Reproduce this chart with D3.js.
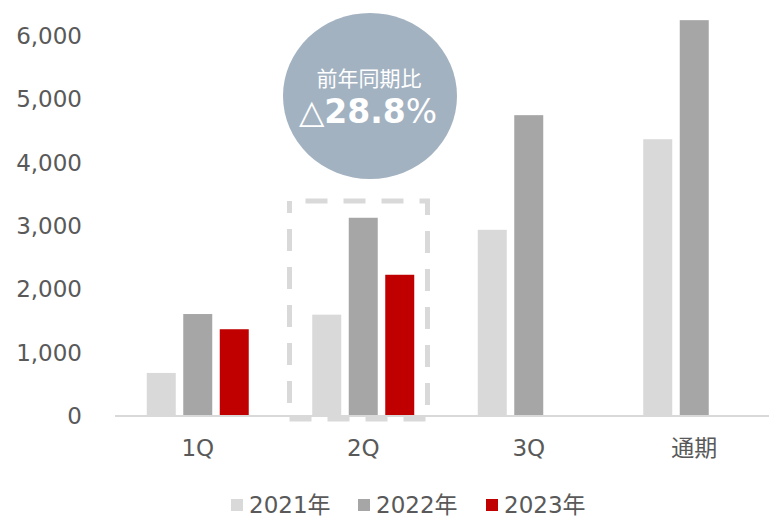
<!DOCTYPE html>
<html>
<head>
<meta charset="utf-8">
<script src="https://cdn.jsdelivr.net/npm/d3@7"></script>
<style>
  body { margin: 0; background: #fff; }
  svg text { font-family: "DejaVu Sans", "Noto Sans CJK JP", sans-serif; }
</style>
</head>
<body>
<svg width="769" height="518"></svg>
<script>
// values
const categories = ["1Q", "2Q", "3Q", "通期"];
const series = ["2021年", "2022年", "2023年"];
const values2021 = [680, 1600, 2940, 4370];
const values2022 = [1610, 3130, 4750, 6250];
const values2023 = [1370, 2230, null, null];
const yTicks = [0, 1000, 2000, 3000, 4000, 5000, 6000];
const colors = ["#d9d9d9", "#a6a6a6", "#c00000"];

const allValues = [values2021, values2022, values2023];
const svg = d3.select("svg");

const x0 = d3.scaleBand().domain(categories).range([115, 777]);
const x1 = d3.scaleBand().domain(series).range([0, x0.bandwidth()])
    .paddingInner(0.2055).paddingOuter(0.87);
const y = d3.scaleLinear().domain([0, 6000]).range([416, 36]);

// dashed highlight box around 2Q
const bx = x0("2Q");
svg.append("rect")
    .attr("x", bx + 9)
    .attr("y", y(3000) - 25)
    .attr("width", 138)
    .attr("height", 218)
    .attr("fill", "none")
    .attr("stroke", "#d9d9d9")
    .attr("stroke-width", 5)
    .attr("stroke-dasharray", "22,16")
    .attr("stroke-dashoffset", 22);

// bars
series.forEach((s, i) => {
    svg.append("g").selectAll("rect")
        .data(categories.map((c, j) => ({c: c, v: allValues[i][j]})).filter(d => d.v != null))
        .enter().append("rect")
        .attr("x", d => x0(d.c) + x1(s))
        .attr("y", d => y(d.v))
        .attr("width", x1.bandwidth())
        .attr("height", d => y(0) - y(d.v))
        .attr("fill", colors[i]);
});

// baseline
svg.append("line")
    .attr("x1", 115).attr("x2", 777)
    .attr("y1", y(0)).attr("y2", y(0))
    .attr("stroke", "#d9d9d9").attr("stroke-width", 2);

// y labels
svg.selectAll("text.ytick")
    .data(yTicks)
    .enter().append("text")
    .attr("class", "ytick")
    .text(d => d3.format(",")(d))
    .attr("text-anchor", "end")
    .attr("x", 82)
    .attr("y", d => y(d) + 8)
    .attr("font-size", 23)
    .attr("fill", "#595959");

// x labels
svg.selectAll("text.xtick")
    .data(categories)
    .enter().append("text")
    .attr("class", "xtick")
    .text(d => d)
    .attr("text-anchor", "middle")
    .attr("x", d => x0(d) + x0.bandwidth() / 2)
    .attr("y", 456)
    .attr("font-size", 23)
    .attr("fill", "#595959");

// callout bubble
svg.append("ellipse")
    .attr("cx", 370).attr("cy", 96)
    .attr("rx", 87).attr("ry", 83)
    .attr("fill", "#a3b2c1");
svg.append("text")
    .text("前年同期比")
    .attr("text-anchor", "middle")
    .attr("x", 369).attr("y", 86)
    .attr("font-size", 21)
    .attr("fill", "#fff");
const big = svg.append("text")
    .attr("text-anchor", "middle")
    .attr("x", 368).attr("y", 123)
    .attr("fill", "#fff");
big.append("tspan").text("△").attr("font-size", 33);
big.append("tspan").text("28.8").attr("font-size", 33).attr("font-weight", "bold");
big.append("tspan").text("%").attr("font-size", 33);

// legend
const legendX = [231, 358, 486];
series.forEach((s, i) => {
    svg.append("rect")
        .attr("x", legendX[i]).attr("y", 499)
        .attr("width", 12).attr("height", 12)
        .attr("fill", colors[i]);
    svg.append("text")
        .text(s)
        .attr("x", legendX[i] + 18)
        .attr("y", 513)
        .attr("font-size", 23)
        .attr("fill", "#595959");
});
</script>
</body>
</html>
